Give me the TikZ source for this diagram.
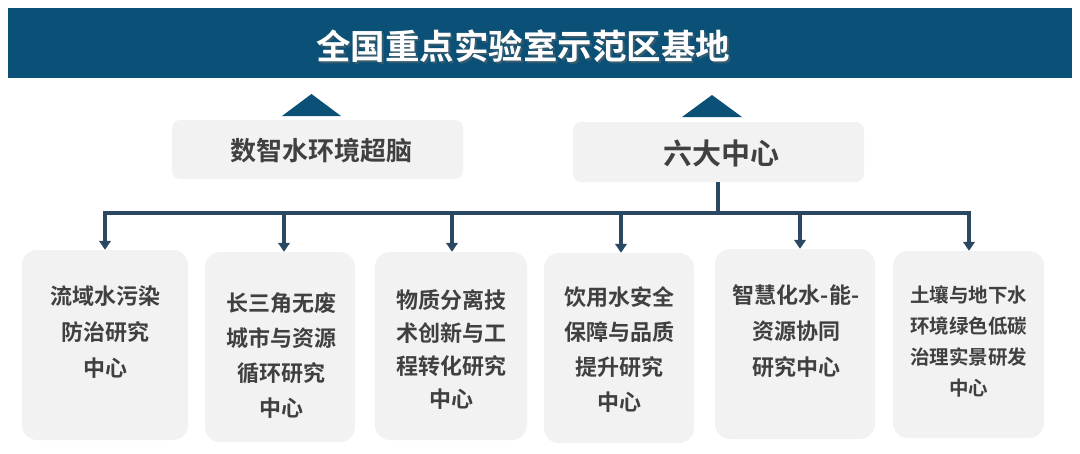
\documentclass[tikz,border=0pt]{standalone}
\usepackage{fontspec}
\usetikzlibrary{arrows.meta}
\newfontfamily\cjk[BoldFont={Noto Sans CJK SC Bold}]{Noto Sans CJK SC}
\definecolor{banner}{HTML}{0B5177}
\definecolor{boxfill}{HTML}{F2F2F2}
\definecolor{txt}{HTML}{404040}
\definecolor{wire}{HTML}{2A4862}
\tikzset{
  topbox/.style={fill=boxfill, rounded corners=8pt, inner sep=0pt},
  cbox/.style={fill=boxfill, rounded corners=15pt, inner sep=0pt},
  ctext/.style={text=txt, align=center, font=\cjk\bfseries\fontsize{22}{35}\selectfont, inner sep=0pt},
  wireline/.style={draw=wire, line width=3.4pt},
  arr/.style={draw=wire, line width=3.1pt, -{Triangle[width=11.5pt,length=9pt]}},
}
\begin{document}
\begin{tikzpicture}[x=1pt,y=-1pt]
\useasboundingbox (0,0) rectangle (1080,453);
% banner
\node[fill=banner, minimum width=1064pt, minimum height=70pt, inner sep=0pt] (ban) at (540,42.5) {};
\node[text=black!60, opacity=0.5, font=\cjk\bfseries\fontsize{34.5}{40}\selectfont, inner sep=0pt] (titsh) at (525,48.5) {全国重点实验室示范区基地};
\node[text=white, font=\cjk\bfseries\fontsize{34.5}{40}\selectfont, inner sep=0pt] (tit) at (523,46.5) {全国重点实验室示范区基地};
% triangles
\fill[banner] (282,116) -- (311.5,94) -- (341,116) -- cycle;
\fill[banner] (682,117) -- (712,95) -- (742,117) -- cycle;
% top boxes
\node[topbox, minimum width=291pt, minimum height=59pt] (brain) at (317.5,149.5) {};
\node[text=txt, font=\cjk\bfseries\fontsize{26}{30}\selectfont, inner sep=0pt] (brainT) at (321,151) {数智水环境超脑};
\node[topbox, minimum width=291pt, minimum height=60pt] (six) at (718.5,152) {};
\node[text=txt, font=\cjk\bfseries\fontsize{29}{32}\selectfont, inner sep=0pt] (sixT) at (721,153) {六大中心};
% bottom boxes
\node[cbox, minimum width=166pt, minimum height=190pt] (bA) at (105,345) {};
\node[cbox, minimum width=150pt, minimum height=190pt] (bB) at (280,347) {};
\node[cbox, minimum width=152pt, minimum height=188pt] (bC) at (451,346) {};
\node[cbox, minimum width=150pt, minimum height=190pt] (bD) at (619,348) {};
\node[cbox, minimum width=160pt, minimum height=190pt] (bE) at (795,344) {};
\node[cbox, minimum width=151pt, minimum height=187pt] (bF) at (968.5,344.5) {};
\node[ctext, font=\cjk\bfseries\fontsize{22}{36}\selectfont] (tA) at (105,332) {流域水污染\\防治研究\\中心};
\node[ctext] (tB) at (281,355.5) {长三角无废\\城市与资源\\循环研究\\中心};
\node[ctext, font=\cjk\bfseries\fontsize{22}{33}\selectfont] (tC) at (451,350) {物质分离技\\术创新与工\\程转化研究\\中心};
\node[ctext] (tD) at (619,350) {饮用水安全\\保障与品质\\提升研究\\中心};
\node[ctext, font=\cjk\bfseries\fontsize{22}{36}\selectfont] (tE) at (796,331) {智慧化水-能-\\资源协同\\研究中心};
\node[ctext, font=\cjk\bfseries\fontsize{19.5}{31}\selectfont] (tF) at (968.5,341) {土壤与地下水\\环境绿色低碳\\治理实景研发\\中心};
% connectors
\coordinate (jm) at (718,213);
\coordinate (j1) at (105,213);
\coordinate (j2) at (284,213);
\coordinate (j3) at (452,213);
\coordinate (j4) at (621,213);
\coordinate (j5) at (800,213);
\coordinate (j6) at (969,213);
\draw[wireline] (six.south -| jm) -- (jm);
\draw[wireline, line cap=rect] (j1) -- (j6);
\draw[arr] (j1) -- (j1 |- bA.north);
\draw[arr] (j2) -- (j2 |- bB.north);
\draw[arr] (j3) -- (j3 |- bC.north);
\draw[arr] (j4) -- (j4 |- bD.north);
\draw[arr] (j5) -- (j5 |- bE.north);
\draw[arr] (j6) -- (j6 |- bF.north);
\end{tikzpicture}
\end{document}
